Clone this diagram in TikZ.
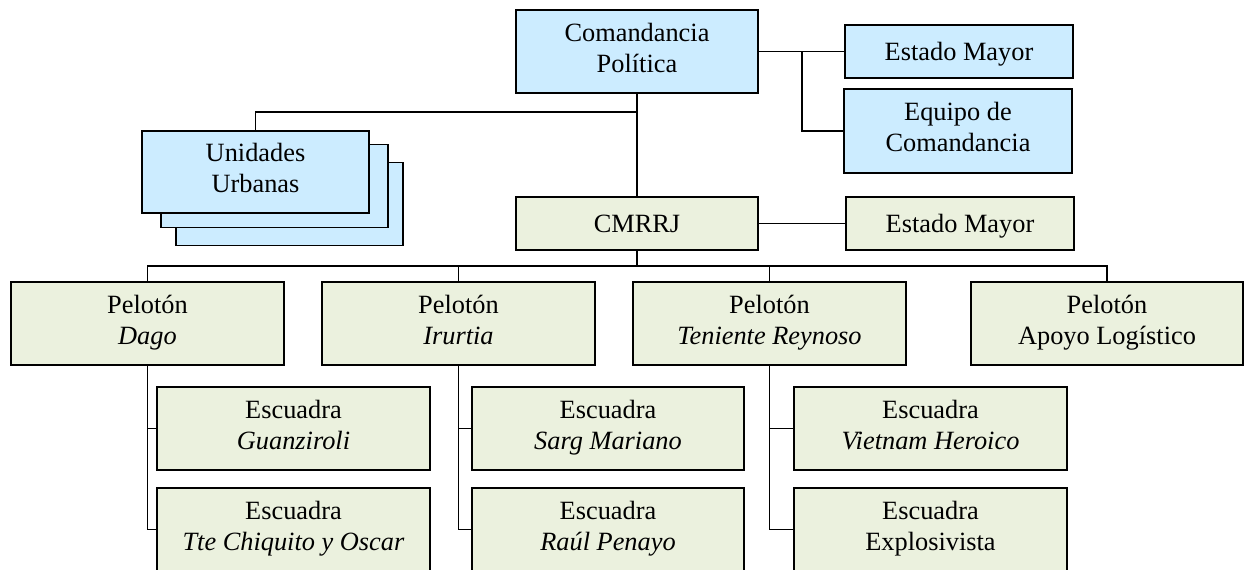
\documentclass[tikz,border=0pt]{standalone}
\usepackage{fontspec}
\setmainfont{Liberation Serif}
\definecolor{polblue}{RGB}{204,236,255}
\definecolor{milgreen}{RGB}{235,241,222}
\newcommand{\boxstrut}{\rule[-4.5pt]{0pt}{19pt}}
\tikzset{
  orgbox/.style={draw=black, line width=1pt, align=center, inner sep=0pt,
    font=\fontsize{15}{17.5}\selectfont,
    execute at begin node=\boxstrut, execute at end node=\boxstrut},
  polbox/.style={orgbox, fill=polblue},
  milbox/.style={orgbox, fill=milgreen},
  link/.style={line width=0.8pt}
}

\begin{document}
\begin{tikzpicture}[x=0.02cm, y=-0.02cm]%
\useasboundingbox (0,0) rectangle (1249,569);%
% political command
\node[polbox, minimum width=4.84cm, minimum height=1.66cm] (cpol) at (637, 51.5) {Comandancia\\Política};%
\node[polbox, minimum width=4.56cm, minimum height=1.06cm] (em1) at (959, 51.5) {Estado Mayor};%
\node[polbox, minimum width=4.56cm, minimum height=1.68cm] (eq) at (958, 131) {Equipo de\\Comandancia};%
% urban units (stack)
\node[polbox, minimum width=4.54cm, minimum height=1.66cm] (uu3) at (289.5, 204) {};%
\node[polbox, minimum width=4.54cm, minimum height=1.66cm] (uu2) at (274.5, 186) {};%
\node[polbox, minimum width=4.54cm, minimum height=1.64cm] (uu) at (255.5, 172) {Unidades\\Urbanas};%
% military command
\node[milbox, minimum width=4.84cm, minimum height=1.06cm] (cmrrj) at (637, 223.5) {CMRRJ};%
\node[milbox, minimum width=4.56cm, minimum height=1.06cm] (em2) at (960, 223.5) {Estado Mayor};%
% platoons
\node[milbox, minimum width=5.46cm, minimum height=1.66cm] (dago) at (147.5, 323.5) {Pelotón\\\textit{Dago}};%
\node[milbox, minimum width=5.46cm, minimum height=1.66cm] (irurtia) at (458.5, 323.5) {Pelotón\\\textit{Irurtia}};%
\node[milbox, minimum width=5.46cm, minimum height=1.66cm] (reynoso) at (769.5, 323.5) {Pelotón\\\textit{Teniente Reynoso}};%
\node[milbox, minimum width=5.44cm, minimum height=1.66cm] (apoyo) at (1107, 323.5) {Pelotón\\Apoyo Logístico};%
% squads
\node[milbox, minimum width=5.46cm, minimum height=1.66cm] (guanz) at (293.5, 428.5) {Escuadra\\\textit{Guanziroli}};%
\node[milbox, minimum width=5.46cm, minimum height=1.66cm] (chiq) at (293.5, 529.5) {Escuadra\\\textit{Tte Chiquito y Oscar}};%
\node[milbox, minimum width=5.44cm, minimum height=1.66cm] (sarg) at (608, 428.5) {Escuadra\\\textit{Sarg Mariano}};%
\node[milbox, minimum width=5.44cm, minimum height=1.66cm] (penayo) at (608, 529.5) {Escuadra\\\textit{Raúl Penayo}};%
\node[milbox, minimum width=5.46cm, minimum height=1.66cm] (vietnam) at (930.5, 428.5) {Escuadra\\\textit{Vietnam Heroico}};%
\node[milbox, minimum width=5.46cm, minimum height=1.66cm] (explo) at (930.5, 529.5) {Escuadra\\Explosivista};%
% connectors
\coordinate (uj) at (637, 112);%
\coordinate (rj) at (802, 51.5);%
\coordinate (bus) at (637, 266);%
\draw[link] (cpol.south) -- (cmrrj.north);%
\draw[link] (uj) -| (uu.north);%
\draw[link] (cpol.east) -- (em1.west);%
\draw[link] (rj) |- (eq.west);%
\draw[link] (cmrrj.east) -- (em2.west);%
\draw[link] (cmrrj.south) -- (bus);%
\draw[link] (dago.north) |- (bus) -| (apoyo.north);%
\draw[link] (irurtia.north) -- (irurtia.north |- bus);%
\draw[link] (reynoso.north) -- (reynoso.north |- bus);%
\draw[link] (dago.south) |- (guanz.west);%
\draw[link] (dago.south) |- (chiq.west);%
\draw[link] (irurtia.south) |- (sarg.west);%
\draw[link] (irurtia.south) |- (penayo.west);%
\draw[link] (reynoso.south) |- (vietnam.west);%
\draw[link] (reynoso.south) |- (explo.west);%
\end{tikzpicture}
\end{document}
